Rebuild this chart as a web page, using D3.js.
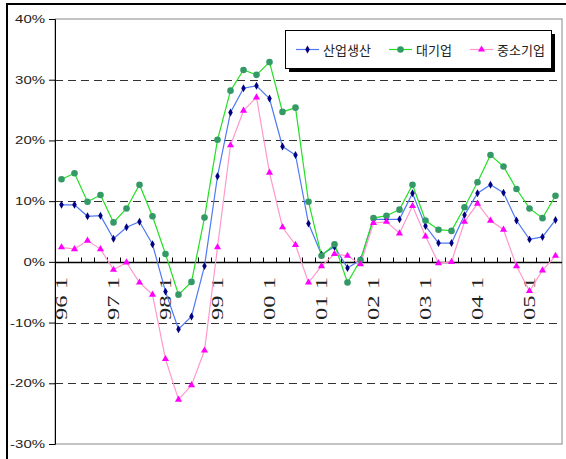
<!DOCTYPE html>
<html lang="ko">
<head>
<meta charset="UTF-8">
<title>산업생산 증가율</title>
<script src="https://d3js.org/d3.v7.min.js"></script>
<style>
  body { margin: 0; background: #fff; }
  svg { display: block; }
  .ylab { font-family: "Liberation Sans", sans-serif; font-size: 11px; fill: #222; }
  .xlab { font-family: "Liberation Serif", serif; font-size: 17px; fill: #222; }
  .leg text { font-family: "Noto Sans CJK KR", sans-serif; font-size: 13px; fill: #222; }
</style>
</head>
<body>
<svg id="chart" width="566" height="459"></svg>
<script>
  // quarterly, 96 Q1 .. 05 Q3
  const categories = [
    "96.1","96.2","96.3","96.4","97.1","97.2","97.3","97.4",
    "98.1","98.2","98.3","98.4","99.1","99.2","99.3","99.4",
    "00.1","00.2","00.3","00.4","01.1","01.2","01.3","01.4",
    "02.1","02.2","02.3","02.4","03.1","03.2","03.3","03.4",
    "04.1","04.2","04.3","04.4","05.1","05.2","05.3"
  ];
  const yearLabels = ["96 1","97 1","98 1","99 1","00 1","01 1","02 1","03 1","04 1","05 1"];
  const yTicks = [-30, -20, -10, 0, 10, 20, 30, 40];

  const production = [9.4, 9.4, 7.5, 7.6, 3.8, 5.7, 6.6, 2.9, -4.9, -11.1, -9.0, -0.7,
    14.1, 24.6, 28.6, 29.0, 26.9, 19.0, 17.6, 6.3, 1.2, 2.5, -1.0, 0.3,
    7.0, 7.0, 7.0, 11.3, 5.9, 3.1, 3.1, 7.7, 11.3, 12.7, 11.4, 6.8, 3.7, 4.1, 6.9];
  const largeFirms = [13.6, 14.6, 9.9, 11.0, 6.5, 8.8, 12.7, 7.5, 1.3, -5.4, -3.3, 7.3,
    20.1, 28.2, 31.6, 30.8, 32.9, 24.7, 25.4, 9.9, 1.0, 2.9, -3.4, 0.3,
    7.2, 7.6, 8.6, 12.7, 6.8, 5.3, 5.1, 9.0, 13.1, 17.6, 15.7, 12.0, 8.8, 7.2, 10.9];
  const smallFirms = [2.4, 2.1, 3.5, 2.1, -1.3, -0.1, -3.4, -5.4, -16.0, -22.7, -20.3, -14.6,
    2.4, 19.2, 24.9, 27.1, 14.7, 5.7, 2.8, -3.4, -0.7, 1.3, 1.0, -0.4,
    6.4, 6.6, 4.7, 9.2, 4.2, -0.2, 0.0, 6.6, 9.6, 6.8, 5.3, -0.7, -4.8, -1.4, 1.0];

  const series = [
    { name: "산업생산", values: production, line: "#4f78f5", mark: "#000080", sym: d3.symbolDiamond, size: 18 },
    { name: "대기업", values: largeFirms, line: "#22e022", mark: "#339966", sym: d3.symbolCircle, size: 34 },
    { name: "중소기업", values: smallFirms, line: "#ff99cc", mark: "#ff00ff", sym: d3.symbolTriangle, size: 22 }
  ];

  const svg = d3.select("#chart");
  const plotL = 55, plotR = 562, plotT = 19, plotB = 444;

  const x = d3.scaleBand().domain(categories).range([plotL, plotR]).padding(0);
  const y = d3.scaleLinear().domain([-30, 40]).range([plotB, plotT]);
  const cx = c => x(c) + x.bandwidth() / 2;

  // outer frame
  svg.append("rect").attr("x", 7).attr("y", 4).attr("width", 600).attr("height", 500)
    .attr("fill", "none").attr("stroke", "#000").attr("stroke-width", 2);

  // plot border
  svg.append("rect").attr("x", plotL).attr("y", plotT).attr("width", plotR - plotL).attr("height", plotB - plotT)
    .attr("fill", "none").attr("stroke", "#888").attr("stroke-width", 1);

  // dashed gridlines
  svg.append("g").selectAll("line").data(yTicks.filter(d => d !== 0 && d !== 40 && d !== -30)).join("line")
    .attr("x1", plotL).attr("x2", plotR)
    .attr("y1", d => Math.round(y(d)) + 0.5).attr("y2", d => Math.round(y(d)) + 0.5)
    .attr("stroke", "#333").attr("stroke-dasharray", "8,5");

  // y axis
  const yAxis = svg.append("g").attr("transform", `translate(${plotL},0)`)
    .call(d3.axisLeft(y).tickValues(yTicks).tickSize(6).tickFormat(d => d + "%"));
  yAxis.select(".domain").attr("stroke", "#000");
  yAxis.selectAll(".tick line").attr("stroke", "#000");
  yAxis.selectAll(".tick text").attr("class", "ylab")
    .attr("x", -10 / 1.36).attr("transform", "scale(1.36,1)");
  yAxis.attr("font-family", null).attr("font-size", null);

  // category axis at 0%
  const y0 = Math.round(y(0)) + 0.5;
  const xAxis = svg.append("g");
  xAxis.append("line").attr("x1", plotL).attr("x2", plotR).attr("y1", y0).attr("y2", y0)
    .attr("stroke", "#000").attr("stroke-width", 1.3);
  xAxis.selectAll("line.tk").data(categories).join("line").attr("class", "tk")
    .attr("x1", d => Math.round(x(d)) + 0.5).attr("x2", d => Math.round(x(d)) + 0.5)
    .attr("y1", y0).attr("y2", y0 - 5).attr("stroke", "#000");
  xAxis.selectAll("text").data(yearLabels).join("text").attr("class", "xlab")
    .attr("text-anchor", "end")
    .attr("transform", (d, i) => `translate(${cx(categories[i * 4]) + 5.5},277) rotate(-90) scale(1.45,1)`)
    .text(d => d);

  // lines and markers
  const line = d3.line().x((d, i) => cx(categories[i])).y(d => y(d));
  series.forEach(s => {
    svg.append("path").datum(s.values).attr("d", line)
      .attr("fill", "none").attr("stroke", s.line).attr("stroke-width", 1.2);
  });
  series.forEach(s => {
    svg.append("g").selectAll("path").data(s.values).join("path")
      .attr("d", d3.symbol(s.sym, s.size))
      .attr("transform", (d, i) => `translate(${cx(categories[i])},${y(d)})`)
      .attr("fill", s.mark);
  });

  // legend
  const leg = svg.append("g").attr("class", "leg");
  leg.append("rect").attr("x", 289).attr("y", 34).attr("width", 266).attr("height", 38).attr("fill", "#000");
  leg.append("rect").attr("x", 285.5).attr("y", 30.5).attr("width", 266).attr("height", 38)
    .attr("fill", "#fff").attr("stroke", "#000");
  const legX = [296, 389, 470];
  series.forEach((s, i) => {
    const g = leg.append("g").attr("transform", `translate(${legX[i]},49.5)`);
    g.append("line").attr("x1", 0).attr("x2", 23).attr("stroke", s.line).attr("stroke-width", 1.2);
    g.append("path").attr("d", d3.symbol(s.sym, s.size)).attr("transform", "translate(11.5,0)").attr("fill", s.mark);
    g.append("text").attr("x", 27).attr("y", 5).text(s.name);
  });
</script>
</body>
</html>
